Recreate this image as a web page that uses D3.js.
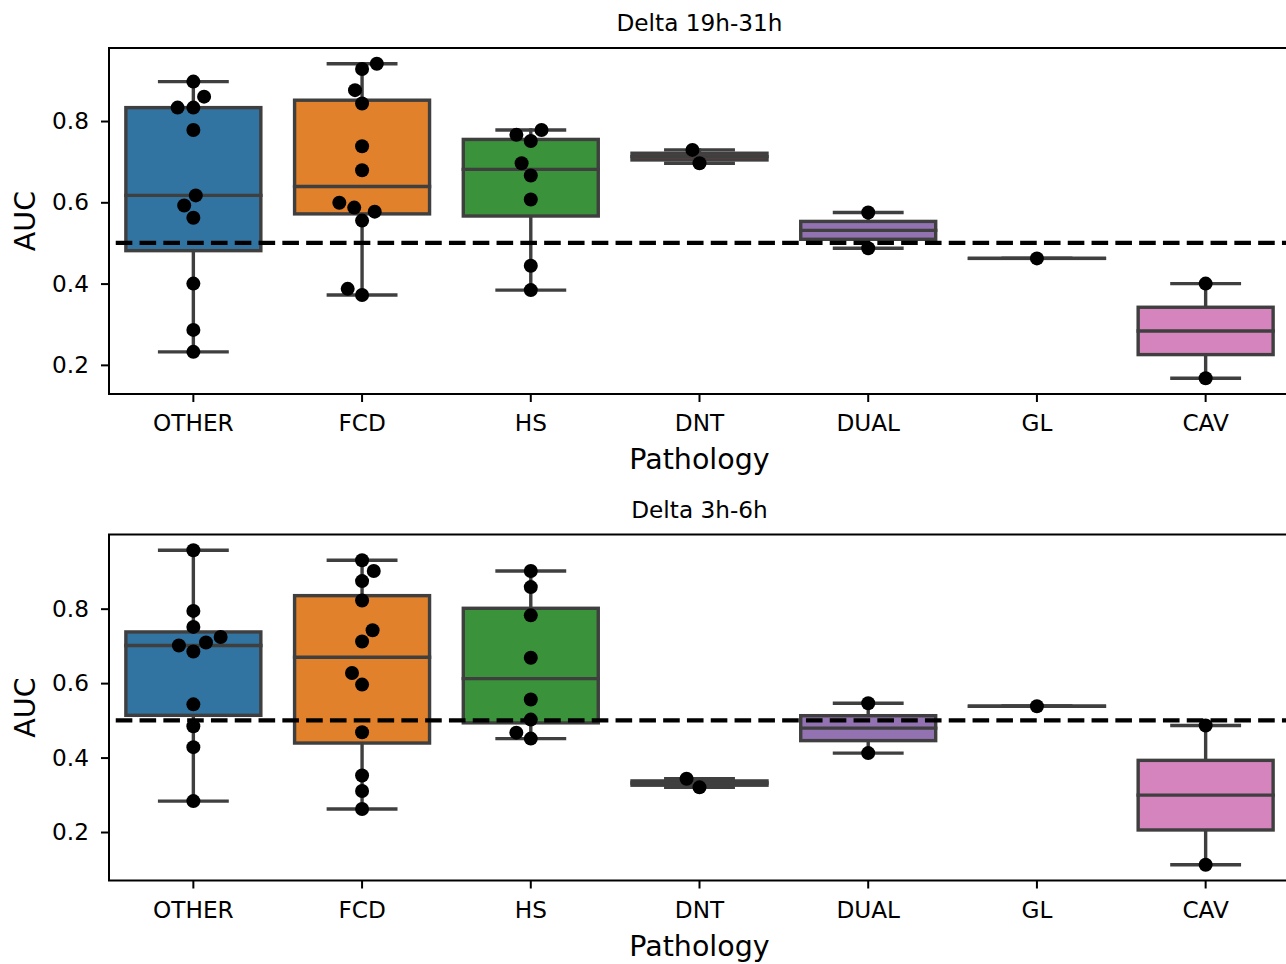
<!DOCTYPE html>
<html>
<head>
<meta charset="utf-8">
<script src="https://cdn.jsdelivr.net/npm/d3@7"></script>
<style>
body { margin: 0; background: #fff; }
svg { display: block; font-family: "DejaVu Sans", sans-serif; }
</style>
</head>
<body>
<svg id="chart" width="1286" height="964"></svg>
<script>
'use strict'

const categories = ['OTHER', 'FCD', 'HS', 'DNT', 'DUAL', 'GL', 'CAV'];
const colors = ['#3274a1', '#e1812c', '#3a923a', '#c03d3e', '#9372b2', '#845b53', '#d684bd'];
const yTicks = [0.2, 0.4, 0.6, 0.8];
const titles = ['Delta 19h-31h', 'Delta 3h-6h'];
const chance = 0.5;

// AUC per patient, one inner list per pathology (same order as categories)
const aucLate = [
    [0.897, 0.860, 0.833, 0.833, 0.778, 0.617, 0.592, 0.562, 0.400, 0.286, 0.232],
    [0.941, 0.928, 0.876, 0.843, 0.738, 0.679, 0.599, 0.587, 0.577, 0.555, 0.387, 0.372],
    [0.778, 0.766, 0.751, 0.696, 0.666, 0.607, 0.444, 0.384],
    [0.729, 0.696],
    [0.575, 0.487],
    [0.462],
    [0.400, 0.167]
];

const aucEarly = [
    [0.957, 0.794, 0.751, 0.724, 0.709, 0.701, 0.685, 0.543, 0.484, 0.428, 0.283],
    [0.930, 0.901, 0.874, 0.822, 0.742, 0.712, 0.627, 0.596, 0.468, 0.352, 0.310, 0.262],
    [0.901, 0.858, 0.782, 0.668, 0.556, 0.502, 0.467, 0.451],
    [0.343, 0.320],
    [0.546, 0.412],
    [0.538],
    [0.486, 0.112]
];

// points that the swarm pushed to the right when left/right was a tie
const tieRightLate = [[], [0.941, 0.577], [], [], [], [], []];
const tieRightEarly = [[], [0.742, 0.901], [], [], [], [], []];

const panels = [aucLate, aucEarly];
const tieRight = [tieRightLate, tieRightEarly];

const svg = d3.select('#chart');
const axLeft = 109, axRight = 1290;
const axTops = [48, 534.5];
const axHeight = 346;
const gray = '#3f3f3f';
const lw = 3.4;
const dotR = 7;
const swarmD = 15;

function boxStats(vals) {
    const s = vals.slice().sort(d3.ascending);
    const q1 = d3.quantile(s, 0.25), med = d3.quantile(s, 0.5), q3 = d3.quantile(s, 0.75);
    const iqr = q3 - q1;
    const lo = d3.min(s.filter(v => v >= q1 - 1.5 * iqr));
    const hi = d3.max(s.filter(v => v <= q3 + 1.5 * iqr));
    return {q1, med, q3, lo, hi};
}

// seaborn-like beeswarm, offsets in pixels
function swarm(vals, y, d, rightSet) {
    const pts = vals.map(v => ({v: v, y: y(v)})).sort((a, b) => a.v - b.v);
    const placed = [];
    pts.forEach(p => {
        const neigh = [];
        for (let j = placed.length - 1; j >= 0; j--) {
            if (placed[j].y - p.y < d) neigh.push(placed[j]);
            else break;
        }
        const cands = [0];
        let leftFirst = true;
        neigh.forEach(n => {
            const dy = p.y - n.y;
            const dx = Math.sqrt(Math.max(d * d - dy * dy, 0)) * 1.05;
            if (leftFirst) cands.push(n.dx - dx, n.dx + dx);
            else cands.push(n.dx + dx, n.dx - dx);
            leftFirst = !leftFirst;
        });
        const preferRight = rightSet.includes(p.v);
        const order = cands.map((c, k) => [c, k])
            .sort((a, b) => {
                const da = Math.abs(a[0]) - Math.abs(b[0]);
                if (Math.abs(da) > 1e-6) return da;
                if (preferRight) return b[0] - a[0];
                return a[1] - b[1];
            });
        let chosen = order[0][0];
        for (const [c] of order) {
            if (neigh.every(n => (n.dx - c) ** 2 + (n.y - p.y) ** 2 >= d * d - 1e-6)) {
                chosen = c;
                break;
            }
        }
        placed.push({v: p.v, y: p.y, dx: chosen});
    });
    return placed;
}

panels.forEach((data, pi) => {
    const top = axTops[pi];
    const g = svg.append('g');

    const x = d3.scaleBand().domain(categories).range([axLeft, axRight]).padding(0);
    const bw = x.bandwidth();
    const cx = c => x(c) + bw / 2;

    const all = data.flat();
    const mn = d3.min(all), mx = d3.max(all);
    const pad = (mx - mn) * 0.05;
    const y = d3.scaleLinear().domain([mn - pad, mx + pad]).range([top + axHeight, top]);

    // boxes
    categories.forEach((c, i) => {
        const st = boxStats(data[i]);
        const xc = cx(c);
        const bg = g.append('g')
            .attr('stroke', gray).attr('stroke-width', lw).attr('stroke-linecap', 'square');
        bg.append('line').attr('x1', xc).attr('x2', xc).attr('y1', y(st.q3)).attr('y2', y(st.hi));
        bg.append('line').attr('x1', xc).attr('x2', xc).attr('y1', y(st.q1)).attr('y2', y(st.lo));
        bg.append('line').attr('x1', xc - bw * 0.2).attr('x2', xc + bw * 0.2).attr('y1', y(st.hi)).attr('y2', y(st.hi));
        bg.append('line').attr('x1', xc - bw * 0.2).attr('x2', xc + bw * 0.2).attr('y1', y(st.lo)).attr('y2', y(st.lo));
        bg.append('rect')
            .attr('x', xc - bw * 0.4).attr('width', bw * 0.8)
            .attr('y', y(st.q3)).attr('height', Math.max(y(st.q1) - y(st.q3), 0.01))
            .attr('fill', colors[i]).attr('stroke-linejoin', 'miter');
        bg.append('line').attr('x1', xc - bw * 0.4).attr('x2', xc + bw * 0.4).attr('y1', y(st.med)).attr('y2', y(st.med));
    });

    // swarm points
    categories.forEach((c, i) => {
        const pts = swarm(data[i], y, swarmD, tieRight[pi][i]);
        g.append('g').selectAll('circle').data(pts).join('circle')
            .attr('cx', d => cx(c) + d.dx)
            .attr('cy', d => d.y)
            .attr('r', dotR)
            .attr('fill', '#000');
    });

    // chance level
    const xi = d3.scaleLinear().domain([-0.5, categories.length - 0.5]).range([axLeft, axRight]);
    g.append('line')
        .attr('x1', xi(-0.46)).attr('x2', xi(categories.length - 0.5))
        .attr('y1', y(chance)).attr('y2', y(chance))
        .attr('stroke', '#000').attr('stroke-width', 4.3)
        .attr('stroke-dasharray', '16.6,7.2');

    // axes
    const ya = g.append('g').attr('transform', `translate(${axLeft},0)`)
        .call(d3.axisLeft(y).tickValues(yTicks).tickFormat(d3.format('.1f')).tickSize(8).tickPadding(12));
    const xa = g.append('g').attr('transform', `translate(0,${top + axHeight})`)
        .call(d3.axisBottom(x).tickSize(8).tickPadding(13));
    [ya, xa].forEach(a => {
        a.select('.domain').remove();
        a.selectAll('.tick line').attr('stroke', '#000').attr('stroke-width', 2);
        a.selectAll('.tick text').attr('fill', '#000').style('font-size', '23.2px')
            .style('font-family', '"DejaVu Sans", sans-serif');
    });

    // spines
    g.append('rect')
        .attr('x', axLeft).attr('y', top).attr('width', axRight - axLeft).attr('height', axHeight)
        .attr('fill', 'none').attr('stroke', '#000').attr('stroke-width', 2);

    const midX = (axLeft + axRight) / 2;
    g.append('text').attr('x', midX).attr('y', top - 17)
        .attr('text-anchor', 'middle').style('font-size', '23.2px').text(titles[pi]);
    g.append('text').attr('x', midX).attr('y', top + axHeight + 75)
        .attr('text-anchor', 'middle').style('font-size', '28.5px').text('Pathology');
    g.append('text')
        .attr('transform', `translate(35,${top + axHeight / 2}) rotate(-90)`)
        .attr('text-anchor', 'middle').style('font-size', '28.5px').text('AUC');
});
</script>
</body>
</html>
